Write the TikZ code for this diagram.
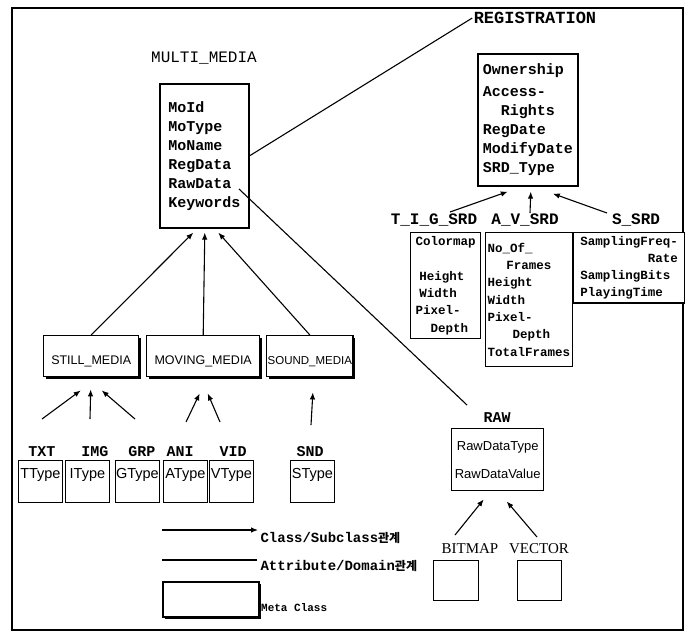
\documentclass[tikz,border=0pt]{standalone}
\usepackage{fontspec}
\setmainfont{Liberation Mono}
\newfontfamily\sansf{Liberation Sans}
\newfontfamily\seriff{Liberation Serif}
\newfontfamily\krf{Noto Sans CJK KR}
\usetikzlibrary{arrows.meta,shadows}

\begin{document}
\begin{tikzpicture}[x=1pt,y=-1pt,line width=1.1pt,
  isa/.style={-{Latex[length=7pt,width=5.5pt]}},
  shad/.style={drop shadow={shadow xshift=2.2pt,shadow yshift=-2.2pt,fill=black,opacity=1}},
  meta/.style={draw,line width=1.6pt,fill=white,align=left,inner xsep=3pt,font=\bfseries\fontsize{15}{19}\selectfont},
  srd/.style={draw,line width=1.4pt,fill=white,align=left,inner xsep=2pt,font=\bfseries\fontsize{12.5}{17.3}\selectfont},
  sub/.style={draw,line width=1.4pt,fill=white,align=center,inner xsep=1pt,shad,font=\sansf\fontsize{12.5}{19}\selectfont},
  tbox/.style={draw,line width=0.8pt,fill=white,align=center,inner xsep=0pt,minimum width=44pt,minimum height=42pt,font=\sansf\fontsize{14.5}{16}\selectfont},
  lbl/.style={inner sep=1pt,font=\bfseries\fontsize{15}{17}\selectfont},
  ]
\path[use as bounding box] (0,0) rectangle (685,638);
\draw[line width=2pt] (12,8) rectangle (683,630);

% MULTI_MEDIA
\node[inner sep=1pt,font=\fontsize{16}{18}\selectfont] (mmlbl) at (204,58) {MULTI\_MEDIA};
\node[meta,minimum width=89pt,minimum height=144pt,anchor=north west] (mm) at (159,83) {MoId\\MoType\\MoName\\RegData\\RawData\\Keywords};

% REGISTRATION and its subclasses
\node[lbl,font=\bfseries\fontsize{17}{19}\selectfont] (reglbl) at (535,18) {REGISTRATION};
\node[meta,minimum width=100pt,minimum height=132pt,anchor=north west] (reg) at (477,53) {Ownership\\[3pt]Access-\\\hspace*{1.2em}Rights\\RegDate\\ModifyDate\\SRD\_Type};
\node[lbl,font=\bfseries\fontsize{16}{18}\selectfont] (tiglbl) at (434,220) {T\_I\_G\_SRD};
\node[lbl,font=\bfseries\fontsize{16}{18}\selectfont] (avlbl) at (525,220) {A\_V\_SRD};
\node[lbl,font=\bfseries\fontsize{16}{18}\selectfont] (slbl) at (636,220) {S\_SRD};
\node[srd,minimum width=70pt,minimum height=106pt,anchor=north west] (tig) at (410,232) {Colormap\\[17pt]\hspace*{.3em}Height\\\hspace*{.3em}Width\\Pixel-\\\hspace*{1.2em}Depth};
\node[srd,minimum width=83pt,minimum height=134pt,anchor=north west] (av) at (485,232) {No\_Of\_\\\hspace*{1.5em}Frames\\Height\\Width\\Pixel-\\\hspace*{2em}Depth\\TotalFrames};
\node[srd,minimum width=111pt,minimum height=70pt,anchor=north west] (s) at (573,232) {SamplingFreq-\\\hspace*{5.4em}Rate\\SamplingBits\\PlayingTime};
\coordinate (tigt) at (450,212); \coordinate (avt) at (530,213); \coordinate (st) at (607,213);
\draw[isa] (tigt) -- ([xshift=-20pt,yshift=-5pt]reg.south);
\draw[isa] (avt) -- ([xshift=3pt,yshift=-5pt]reg.south);
\draw[isa] (st) -- ([xshift=25pt,yshift=-7pt]reg.south);

% media subclasses
\node[sub,minimum width=95pt,minimum height=41pt,anchor=north west] (still) at (43,335) {\mbox{}\\STILL\_MEDIA};
\node[sub,minimum width=113pt,minimum height=41pt,anchor=north west] (moving) at (146,335) {\mbox{}\\MOVING\_MEDIA};
\node[sub,minimum width=85pt,minimum height=41pt,anchor=north west,font=\sansf\fontsize{11.5}{19}\selectfont] (sound) at (266,335) {\mbox{}\\SOUND\_MEDIA};
\draw[isa] (still.north) -- ([xshift=-11pt,yshift=-4pt]mm.south);
\draw[isa] (moving.north) -- ([xshift=0.5pt,yshift=-4pt]mm.south);
\draw[isa] (sound.north) -- ([xshift=14pt,yshift=-4pt]mm.south);

% leaf classes
\node[lbl] (txt) at (42,452) {TXT};
\node[lbl] (img) at (95,452) {IMG};
\node[lbl] (grp) at (142,452) {GRP};
\node[lbl] (ani) at (180,452) {ANI};
\node[lbl] (vid) at (233,452) {VID};
\node[lbl] (snd) at (310,452) {SND};
\node[tbox,anchor=north west] (tt) at (18,460) {TType\\\mbox{}};
\node[tbox,anchor=north west] (it) at (65,460) {IType\\\mbox{}};
\node[tbox,anchor=north west] (gt) at (115,460) {GType\\\mbox{}};
\node[tbox,anchor=north west] (at) at (163,460) {AType\\\mbox{}};
\node[tbox,anchor=north west] (vt) at (209,460) {VType\\\mbox{}};
\node[tbox,anchor=north west] (sty) at (290,460) {SType\\\mbox{}};
\coordinate (t1) at (42,419); \coordinate (t2) at (90,419); \coordinate (t3) at (135,419);
\coordinate (t4) at (186,422); \coordinate (t5) at (220,422); \coordinate (t6) at (311,425);
\draw[isa] (t1) -- ([xshift=-10.5pt,yshift=-13pt]still.south);
\draw[isa] (t2) -- ([xshift=-0.5pt,yshift=-12pt]still.south);
\draw[isa] (t3) -- ([xshift=10.5pt,yshift=-13pt]still.south);
\draw[isa] (t4) -- ([xshift=-3.5pt,yshift=-16pt]moving.south);
\draw[isa] (t5) -- ([xshift=4.5pt,yshift=-16pt]moving.south);
\draw[isa] (t6) -- ([xshift=3pt,yshift=-15pt]sound.south);

% RAW
\node[lbl] (rawlbl) at (497,418) {RAW};
\node[draw,line width=1.4pt,fill=white,minimum width=92pt,minimum height=62pt,anchor=north west,align=center,inner xsep=1pt,font=\sansf\fontsize{13}{28}\selectfont] (raw) at (451,428) {RawDataType\\RawDataValue};
\node[inner sep=1pt,font=\seriff\fontsize{15}{17}\selectfont] (bmlbl) at (470,549) {BITMAP};
\node[inner sep=1pt,font=\seriff\fontsize{15}{17}\selectfont] (veclbl) at (539,549) {VECTOR};
\node[draw,line width=0.8pt,minimum width=45pt,minimum height=40pt,anchor=north west] (bm) at (433,560) {};
\node[draw,line width=0.8pt,minimum width=44pt,minimum height=40pt,anchor=north west] (vec) at (517,560) {};
\coordinate (bmt) at (455,535); \coordinate (vect) at (537,537);
\draw[isa] (bmt) -- ([xshift=-14pt,yshift=-8pt]raw.south);
\draw[isa] (vect) -- ([xshift=9pt,yshift=-10pt]raw.south);

% attribute/domain links
\coordinate (rdat) at (239,189); \coordinate (rawtip) at (467,405);
\draw (mm.east) -- (reglbl.west);
\draw (rdat) -- (rawtip);

% legend
\coordinate (lg1a) at (162,530); \coordinate (lg1b) at (258,530);
\coordinate (lg2a) at (162,560); \coordinate (lg2b) at (257,560);
\draw[isa] (lg1a) -- (lg1b);
\draw (lg2a) -- (lg2b);
\node[anchor=west,inner sep=1pt,font=\bfseries\fontsize{14}{16}\selectfont] (lgisa) at (259,538) {Class/Subclass{\krf\bfseries\fontsize{12}{14}\selectfont 관계}};
\node[anchor=west,inner sep=1pt,font=\bfseries\fontsize{14}{16}\selectfont] (lgattr) at (259,566) {Attribute/Domain{\krf\bfseries\fontsize{12}{14}\selectfont 관계}};
\node[draw,line width=1.6pt,fill=white,shad,minimum width=96pt,minimum height=35pt,anchor=north west] (metakey) at (162,581) {};
\node[anchor=west,inner sep=1pt,font=\bfseries\fontsize{11}{13}\selectfont] (metatxt) at ([yshift=-8pt]metakey.east) {Meta Class};
\end{tikzpicture}
\end{document}
